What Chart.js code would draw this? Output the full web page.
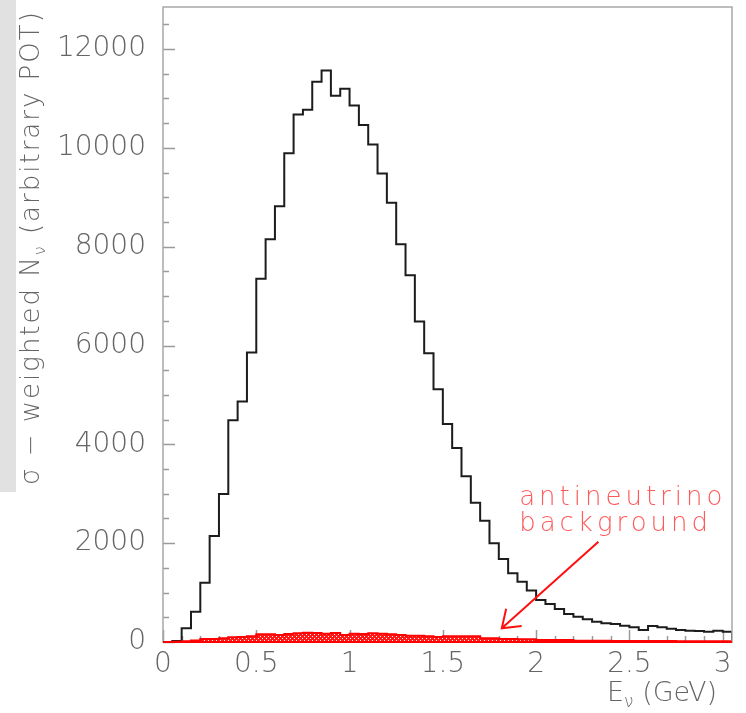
<!DOCTYPE html>
<html>
<head>
<meta charset="utf-8">
<script src="https://cdn.jsdelivr.net/npm/chart.js@4.4.1/dist/chart.umd.min.js"></script>
<style>
  body { margin: 0; background: #fff; }
  canvas { display: block; }
</style>
</head>
<body>
<canvas id="chart" width="746" height="713"></canvas>
<script>
// bins of 0.05 GeV from 0 to 3.05
const binWidth = 0.05;
const xMax = 3.05;
const yMax = 12850;

const xTicks = [0, 0.5, 1, 1.5, 2, 2.5, 3];
const yTicks = [0, 2000, 4000, 6000, 8000, 10000, 12000];

// sigma-weighted neutrino counts per bin
const neutrino = [
    0, 20, 277, 610, 1200, 2146, 2996, 4488, 4865, 5856,
    7350, 8150, 8820, 9890, 10674, 10769, 11336, 11565, 11053, 11194,
    10856, 10460, 10065, 9480, 8890, 8050, 7420, 6484, 5844, 5115,
    4413, 3927, 3356, 2820, 2456, 1998, 1680, 1390, 1220, 1040,
    850, 770, 668, 567, 512, 459, 411, 378, 364, 330,
    298, 243, 324, 297, 270, 243, 229, 223, 209, 229,
    209
];

// antineutrino background per bin
const antineutrino = [
    0, 5, 15, 30, 60, 60, 74, 94, 100, 114,
    155, 155, 142, 162, 176, 189, 182, 169, 182, 142,
    169, 162, 176, 169, 155, 142, 128, 128, 114, 100,
    114, 114, 114, 114, 74, 74, 60, 60, 54, 54,
    40, 40, 40, 40, 27, 27, 27, 27, 20, 20,
    20, 20, 20, 20, 20, 14, 14, 14, 14, 14,
    14
];

const binLow = neutrino.map((_, i) => +(i * binWidth).toFixed(2));

function steps(vals) {
    const pts = vals.map((v, i) => ({ x: binLow[i], y: v }));
    pts.push({ x: xMax, y: 0 });
    return pts;
}

function hatch() {
    const c = document.createElement('canvas');
    c.width = 4; c.height = 4;
    const g = c.getContext('2d');
    g.fillStyle = '#ff1a1a';
    g.fillRect(0, 0, 4, 4);
    g.fillStyle = '#ffffff';
    g.fillRect(0, 0, 1, 1);
    g.fillRect(2, 2, 1, 1);
    return g.createPattern(c, 'repeat');
}

const FONT = '"DejaVu Sans", sans-serif';
const LIGHT = '200';
const GREY = '#656565';

//------decorations: frame, inward ticks, titles, arrow
const rootStyle = {
    id: 'rootStyle',
    beforeDraw(chart) {
        const ctx = chart.ctx;
        ctx.save();
        ctx.fillStyle = '#e1e1e1';
        ctx.fillRect(0, 0, 16, 492);
        ctx.restore();
    },
    beforeDatasetsDraw(chart) {
        const { ctx, chartArea: a, scales: { x, y } } = chart;
        ctx.save();
        ctx.strokeStyle = '#9a9a9a';
        ctx.lineWidth = 1.5;
        ctx.beginPath();
        for (let v = 0; v <= yMax; v += 500) {
            const p = Math.round(y.getPixelForValue(v)) + 0.5;
            const len = v % 2000 === 0 ? 12 : 6;
            ctx.moveTo(a.left, p);
            ctx.lineTo(a.left + len, p);
        }
        for (let i = 0; i <= 30; i++) {
            const p = Math.round(x.getPixelForValue(i / 10)) + 0.5;
            const len = i % 5 === 0 ? 12 : 6;
            ctx.moveTo(p, a.bottom);
            ctx.lineTo(p, a.bottom - len);
        }
        ctx.stroke();
        ctx.restore();
    },
    afterDatasetsDraw(chart) {
        const { ctx, chartArea: a, scales: { x, y } } = chart;
        ctx.save();
        // frame
        ctx.strokeStyle = '#a8a8a8';
        ctx.lineWidth = 1.5;
        ctx.strokeRect(a.left, a.top, a.right - a.left, a.bottom - a.top);
        // red bottom line over axis
        ctx.strokeStyle = '#ff0000';
        ctx.lineWidth = 2;
        ctx.beginPath();
        ctx.moveTo(a.left, a.bottom);
        ctx.lineTo(a.right, a.bottom);
        ctx.stroke();

        // arrow
        const tx = x.getPixelForValue(1.816), ty = y.getPixelForValue(277);
        const sx = x.getPixelForValue(2.334), sy = y.getPixelForValue(2030);
        const ang = Math.atan2(sy - ty, sx - tx);
        ctx.strokeStyle = '#ff1010';
        ctx.lineWidth = 2;
        ctx.beginPath();
        ctx.moveTo(sx, sy);
        ctx.lineTo(tx, ty);
        const wing = 20, spread = 0.62;
        ctx.moveTo(tx + wing * Math.cos(ang + spread), ty + wing * Math.sin(ang + spread));
        ctx.lineTo(tx, ty);
        ctx.lineTo(tx + wing * Math.cos(ang - spread), ty + wing * Math.sin(ang - spread));
        ctx.stroke();

        // label
        ctx.fillStyle = '#ff5a5a';
        ctx.font = LIGHT + ' 26px ' + FONT;
        ctx.textAlign = 'left';
        ctx.textBaseline = 'alphabetic';
        ctx.letterSpacing = '4px';
        ctx.fillText('antineutrino', x.getPixelForValue(1.909), y.getPixelForValue(2775));
        ctx.fillText('background', x.getPixelForValue(1.909), y.getPixelForValue(2248));
        ctx.letterSpacing = '0px';

        // x title
        ctx.fillStyle = GREY;
        ctx.font = LIGHT + ' 27px ' + FONT;
        let px = 607;
        ctx.fillText('E', px, 701);
        px += ctx.measureText('E').width;
        ctx.font = LIGHT + ' 17px ' + FONT;
        ctx.fillText('ν', px, 707);
        px += ctx.measureText('ν').width;
        ctx.font = LIGHT + ' 27px ' + FONT;
        ctx.fillText(' (GeV)', px, 701);

        // y title
        ctx.translate(39, 485);
        ctx.rotate(-Math.PI / 2);
        ctx.letterSpacing = '2px';
        ctx.font = LIGHT + ' 26px ' + FONT;
        let q = 0;
        const part1 = 'σ − weighted N';
        ctx.fillText(part1, q, 0);
        q += ctx.measureText(part1).width;
        ctx.font = LIGHT + ' 16px ' + FONT;
        ctx.fillText('ν', q, 6);
        q += ctx.measureText('ν').width;
        ctx.font = LIGHT + ' 26px ' + FONT;
        ctx.fillText(' (arbitrary POT)', q, 0);
        ctx.restore();
    }
};

const config = {
    type: 'line',
    data: {
        datasets: [{
            data: steps(antineutrino),
            borderColor: '#ff0000',
            backgroundColor: hatch(),
            borderWidth: 2,
            fill: 'origin',
            stepped: 'before'
        }, {
            data: steps(neutrino),
            borderColor: '#1c1c1c',
            borderWidth: 2,
            fill: false,
            stepped: 'before'
        }]
    },
    options: {
        responsive: false,
        animation: false,
        layout: {
            padding: { top: 7, right: 14, bottom: 0, left: 0 }
        },
        elements: {
            point: { radius: 0 }  // plain histogram outline
        },
        plugins: {
            legend: { display: false },
            tooltip: { enabled: false }
        },
        scales: {
            x: {
                type: 'linear',
                min: 0,
                max: xMax,
                grid: { display: false, drawTicks: false },
                border: { display: false },
                afterBuildTicks(s) {
                    s.ticks = xTicks.map(v => ({ value: v }));
                },
                ticks: {
                    padding: 6,
                    color: GREY,
                    font: { family: FONT, size: 28, weight: LIGHT },
                    maxRotation: 0,
                    autoSkip: false,
                    callback: v => String(v)
                },
                afterFit(s) {
                    s.height = 71;
                    s.paddingLeft = 0;
                    s.paddingRight = 0;
                }
            },
            y: {
                min: 0,
                max: yMax,
                grid: { display: false, drawTicks: false },
                border: { display: false },
                afterBuildTicks(s) {
                    s.ticks = yTicks.map(v => ({ value: v }));
                },
                ticks: {
                    padding: 17,
                    color: GREY,
                    font: { family: FONT, size: 28, weight: LIGHT },
                    autoSkip: false,
                    callback: v => String(v)
                },
                afterFit(s) {
                    s.width = 163;
                    s.paddingTop = 0;
                    s.paddingBottom = 0;
                }
            }
        }
    },
    plugins: [rootStyle]
};

const myChart = new Chart(document.getElementById('chart'), config);
</script>
</body>
</html>
